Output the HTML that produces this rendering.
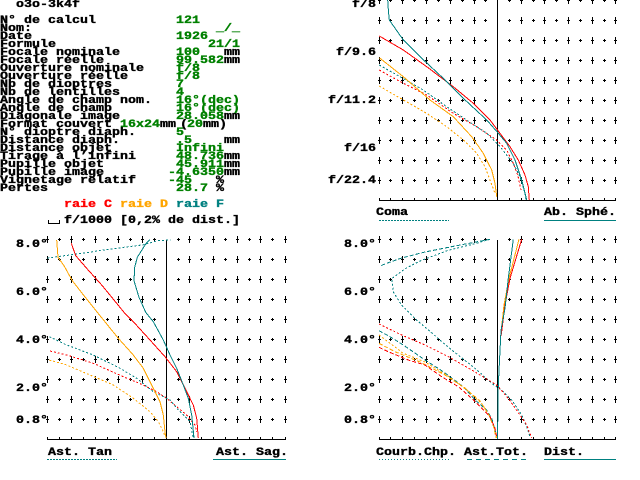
<!DOCTYPE html>
<html><head><meta charset="utf-8"><style>
html,body{margin:0;padding:0;background:#fff;}
svg{display:block;}
text{font-family:"Liberation Mono","DejaVu Sans Mono",monospace;font-weight:bold;font-size:11px;stroke:#000;stroke-width:0.35px;}
.T{stroke:#000;stroke-width:1;stroke-dasharray:7 13;}
.A{stroke:#000;stroke-width:3;stroke-dasharray:1 19;}
.S{stroke:#000;stroke-width:1;stroke-dasharray:3 17;}
text.g{fill:#008000;stroke:#008000}text.r{fill:#ff0000;stroke:#ff0000}text.o{fill:#ffa500;stroke:#ffa500}text.t{fill:#008080;stroke:#008080}
.c{fill:none;stroke-width:1;}
.dt{stroke-dasharray:2 2;}
.ds{stroke-dasharray:4 2;}
</style></head><body>
<svg width="640" height="480" viewBox="0 0 640 480" xmlns="http://www.w3.org/2000/svg">
<rect width="640" height="480" fill="#fff"/>

<g fill="#000">
<text transform="translate(16 7) scale(1.2121 1)">o3o-3k4f</text>
<text transform="translate(0 23) scale(1.2121 1)">N° de calcul</text>
<text class="g" transform="translate(176 23) scale(1.2121 1)">121</text>
<text transform="translate(0 31) scale(1.2121 1)">Nom:</text>
<text class="g" transform="translate(216 31) scale(1.2121 1)">_/_</text>
<text transform="translate(0 39) scale(1.2121 1)">Date</text>
<text class="g" transform="translate(176 39) scale(1.2121 1)">1926</text>
<text transform="translate(0 47) scale(1.2121 1)">Formule</text>
<text class="g" transform="translate(208 47) scale(1.2121 1)">21/1</text>
<text transform="translate(0 55) scale(1.2121 1)">Focale nominale</text>
<text class="g" transform="translate(176 55) scale(1.2121 1)">100</text>
<text transform="translate(224 55) scale(1.2121 1)">mm</text>
<text transform="translate(0 63) scale(1.2121 1)">Focale réelle</text>
<text class="g" transform="translate(176 63) scale(1.2121 1)">99.582</text>
<text transform="translate(224 63) scale(1.2121 1)">mm</text>
<text transform="translate(0 71) scale(1.2121 1)">Ouverture nominale</text>
<text class="g" transform="translate(176 71) scale(1.2121 1)">f/8</text>
<text transform="translate(0 79) scale(1.2121 1)">Ouverture réelle</text>
<text class="g" transform="translate(176 79) scale(1.2121 1)">f/8</text>
<text transform="translate(0 87) scale(1.2121 1)">Nb de dioptres</text>
<text class="g" transform="translate(176 87) scale(1.2121 1)">7</text>
<text transform="translate(0 95) scale(1.2121 1)">Nb de lentilles</text>
<text class="g" transform="translate(176 95) scale(1.2121 1)">4</text>
<text transform="translate(0 103) scale(1.2121 1)">Angle de champ nom.</text>
<text class="g" transform="translate(176 103) scale(1.2121 1)">16°(dec)</text>
<text transform="translate(0 111) scale(1.2121 1)">Angle de champ</text>
<text class="g" transform="translate(176 111) scale(1.2121 1)">16°(dec)</text>
<text transform="translate(0 119) scale(1.2121 1)">Diagonale image</text>
<text class="g" transform="translate(176 119) scale(1.2121 1)">28.058</text>
<text transform="translate(224 119) scale(1.2121 1)">mm</text>
<text transform="translate(0 127) scale(1.2121 1)">Format couvert</text>
<text class="g" transform="translate(120 127) scale(1.2121 1)">16x24</text>
<text transform="translate(160 127) scale(1.2121 1)">mm</text>
<text transform="translate(180 127) scale(1.2121 1)">(</text>
<text class="g" transform="translate(187 127) scale(1.2121 1)">20</text>
<text transform="translate(203 127) scale(1.2121 1)">mm)</text>
<text transform="translate(0 135) scale(1.2121 1)">N° dioptre diaph.</text>
<text class="g" transform="translate(176 135) scale(1.2121 1)">5</text>
<text transform="translate(0 143) scale(1.2121 1)">Distance diaph.</text>
<text class="g" transform="translate(176 143) scale(1.2121 1)">.5</text>
<text transform="translate(224 143) scale(1.2121 1)">mm</text>
<text transform="translate(0 151) scale(1.2121 1)">Distance objet</text>
<text class="g" transform="translate(176 151) scale(1.2121 1)">Infini</text>
<text transform="translate(0 159) scale(1.2121 1)">Tirage à l’infini</text>
<text class="g" transform="translate(176 159) scale(1.2121 1)">48.736</text>
<text transform="translate(224 159) scale(1.2121 1)">mm</text>
<text transform="translate(0 167) scale(1.2121 1)">Pupille objet</text>
<text class="g" transform="translate(176 167) scale(1.2121 1)">45.911</text>
<text transform="translate(224 167) scale(1.2121 1)">mm</text>
<text transform="translate(0 175) scale(1.2121 1)">Pupille image</text>
<text class="g" transform="translate(168 175) scale(1.2121 1)">-4.6350</text>
<text transform="translate(224 175) scale(1.2121 1)">mm</text>
<text transform="translate(0 183) scale(1.2121 1)">Vignetage relatif</text>
<text class="g" transform="translate(168 183) scale(1.2121 1)">-45</text>
<text transform="translate(216 183) scale(1.2121 1)">%</text>
<text transform="translate(0 191) scale(1.2121 1)">Pertes</text>
<text class="g" transform="translate(176 191) scale(1.2121 1)">28.7</text>
<text transform="translate(216 191) scale(1.2121 1)">%</text>
<text class="r" transform="translate(64 207) scale(1.2121 1)">raie C</text>
<text class="o" transform="translate(120 207) scale(1.2121 1)">raie D</text>
<text class="t" transform="translate(176 207) scale(1.2121 1)">raie F</text>
<text transform="translate(64 223) scale(1.2121 1)">f/1000 [0,2% de dist.]</text>

<text transform="translate(352 7) scale(1.2121 1)">f/8</text>
<text transform="translate(336 55) scale(1.2121 1)">f/9.6</text>
<text transform="translate(328 103) scale(1.2121 1)">f/11.2</text>
<text transform="translate(344 151) scale(1.2121 1)">f/16</text>
<text transform="translate(328 183) scale(1.2121 1)">f/22.4</text>
<text transform="translate(376 215) scale(1.2121 1)">Coma</text>
<text transform="translate(544 215) scale(1.2121 1)">Ab. Sphé.</text>

<text transform="translate(16 247) scale(1.2121 1)">8.0°</text>
<text transform="translate(16 295) scale(1.2121 1)">6.0°</text>
<text transform="translate(16 343) scale(1.2121 1)">4.0°</text>
<text transform="translate(16 391) scale(1.2121 1)">2.0°</text>
<text transform="translate(16 423) scale(1.2121 1)">0.8°</text>
<text transform="translate(48 455) scale(1.2121 1)">Ast. Tan</text>
<text transform="translate(216 455) scale(1.2121 1)">Ast. Sag.</text>

<text transform="translate(344 247) scale(1.2121 1)">8.0°</text>
<text transform="translate(344 295) scale(1.2121 1)">6.0°</text>
<text transform="translate(344 343) scale(1.2121 1)">4.0°</text>
<text transform="translate(344 391) scale(1.2121 1)">2.0°</text>
<text transform="translate(344 423) scale(1.2121 1)">0.8°</text>
<text transform="translate(376 455) scale(1.2121 1)">Courb.Chp.</text>
<text transform="translate(464 455) scale(1.2121 1)">Ast.Tot.</text>
<text transform="translate(544 455) scale(1.2121 1)">Dist.</text>
</g>

<g shape-rendering="crispEdges">
<path d="M48.5,220V223.5H59.5V220" fill="none" stroke="#000"/>

<g class="T">
<line x1="379.5" x2="379.5" y1="-3" y2="190"/><line x1="402.5" x2="402.5" y1="-3" y2="190"/>
<line x1="426.5" x2="426.5" y1="-3" y2="190"/><line x1="450.5" x2="450.5" y1="-3" y2="190"/>
<line x1="474.5" x2="474.5" y1="-3" y2="190"/><line x1="521.5" x2="521.5" y1="-3" y2="190"/>
<line x1="544.5" x2="544.5" y1="-3" y2="190"/><line x1="568.5" x2="568.5" y1="-3" y2="190"/>
<line x1="592.5" x2="592.5" y1="-3" y2="190"/><line x1="615.5" x2="615.5" y1="-3" y2="190"/>
</g>
<g class="S">
<line x1="390.5" x2="390.5" y1="-1" y2="190"/><line x1="414.5" x2="414.5" y1="-1" y2="190"/>
<line x1="438.5" x2="438.5" y1="-1" y2="190"/><line x1="462.5" x2="462.5" y1="-1" y2="190"/>
<line x1="485.5" x2="485.5" y1="-1" y2="190"/><line x1="509.5" x2="509.5" y1="-1" y2="190"/>
<line x1="533.5" x2="533.5" y1="-1" y2="190"/><line x1="556.5" x2="556.5" y1="-1" y2="190"/>
<line x1="580.5" x2="580.5" y1="-1" y2="190"/><line x1="604.5" x2="604.5" y1="-1" y2="190"/>
</g>
<g class="A">
<line x1="379.5" x2="379.5" y1="0" y2="190"/><line x1="390.5" x2="390.5" y1="0" y2="190"/>
<line x1="402.5" x2="402.5" y1="0" y2="190"/><line x1="414.5" x2="414.5" y1="0" y2="190"/>
<line x1="426.5" x2="426.5" y1="0" y2="190"/><line x1="438.5" x2="438.5" y1="0" y2="190"/>
<line x1="450.5" x2="450.5" y1="0" y2="190"/><line x1="462.5" x2="462.5" y1="0" y2="190"/>
<line x1="474.5" x2="474.5" y1="0" y2="190"/><line x1="485.5" x2="485.5" y1="0" y2="190"/>
<line x1="509.5" x2="509.5" y1="0" y2="190"/><line x1="521.5" x2="521.5" y1="0" y2="190"/>
<line x1="533.5" x2="533.5" y1="0" y2="190"/><line x1="544.5" x2="544.5" y1="0" y2="190"/>
<line x1="556.5" x2="556.5" y1="0" y2="190"/><line x1="568.5" x2="568.5" y1="0" y2="190"/>
<line x1="580.5" x2="580.5" y1="0" y2="190"/><line x1="592.5" x2="592.5" y1="0" y2="190"/>
<line x1="604.5" x2="604.5" y1="0" y2="190"/><line x1="615.5" x2="615.5" y1="0" y2="190"/>
</g>
<path d="M379,200.5H616M497.5,0V200" stroke="#000" fill="none"/>
<path d="M379.5,198V200M390.5,198V200M402.5,198V200M414.5,198V200M426.5,198V200M438.5,198V200M450.5,198V200M462.5,198V200M474.5,198V200M485.5,198V200M509.5,198V200M521.5,198V200M533.5,198V200M544.5,198V200M556.5,198V200M568.5,198V200M580.5,198V200M592.5,198V200M604.5,198V200M615.5,198V200" stroke="#000" fill="none"/>

<g class="T">
<line x1="47.5" x2="47.5" y1="236" y2="430"/><line x1="71.5" x2="71.5" y1="236" y2="430"/>
<line x1="95.5" x2="95.5" y1="236" y2="430"/><line x1="118.5" x2="118.5" y1="236" y2="430"/>
<line x1="142.5" x2="142.5" y1="236" y2="430"/><line x1="189.5" x2="189.5" y1="236" y2="430"/>
<line x1="213.5" x2="213.5" y1="236" y2="430"/><line x1="237.5" x2="237.5" y1="236" y2="430"/>
<line x1="260.5" x2="260.5" y1="236" y2="430"/><line x1="285.5" x2="285.5" y1="236" y2="430"/>
</g>
<g class="S">
<line x1="59.5" x2="59.5" y1="238" y2="430"/><line x1="83.5" x2="83.5" y1="238" y2="430"/>
<line x1="107.5" x2="107.5" y1="238" y2="430"/><line x1="130.5" x2="130.5" y1="238" y2="430"/>
<line x1="154.5" x2="154.5" y1="238" y2="430"/><line x1="178.5" x2="178.5" y1="238" y2="430"/>
<line x1="201.5" x2="201.5" y1="238" y2="430"/><line x1="225.5" x2="225.5" y1="238" y2="430"/>
<line x1="249.5" x2="249.5" y1="238" y2="430"/><line x1="272.5" x2="272.5" y1="238" y2="430"/>
</g>
<g class="A">
<line x1="47.5" x2="47.5" y1="239" y2="430"/><line x1="59.5" x2="59.5" y1="239" y2="430"/>
<line x1="71.5" x2="71.5" y1="239" y2="430"/><line x1="83.5" x2="83.5" y1="239" y2="430"/>
<line x1="95.5" x2="95.5" y1="239" y2="430"/><line x1="107.5" x2="107.5" y1="239" y2="430"/>
<line x1="118.5" x2="118.5" y1="239" y2="430"/><line x1="130.5" x2="130.5" y1="239" y2="430"/>
<line x1="142.5" x2="142.5" y1="239" y2="430"/><line x1="154.5" x2="154.5" y1="239" y2="430"/>
<line x1="178.5" x2="178.5" y1="239" y2="430"/><line x1="189.5" x2="189.5" y1="239" y2="430"/>
<line x1="201.5" x2="201.5" y1="239" y2="430"/><line x1="213.5" x2="213.5" y1="239" y2="430"/>
<line x1="225.5" x2="225.5" y1="239" y2="430"/><line x1="237.5" x2="237.5" y1="239" y2="430"/>
<line x1="249.5" x2="249.5" y1="239" y2="430"/><line x1="260.5" x2="260.5" y1="239" y2="430"/>
<line x1="272.5" x2="272.5" y1="239" y2="430"/><line x1="285.5" x2="285.5" y1="239" y2="430"/>
</g>
<path d="M47,439.5H286M166.5,240V439" stroke="#000" fill="none"/>
<path d="M47.5,437V439M59.5,437V439M71.5,437V439M83.5,437V439M95.5,437V439M107.5,437V439M118.5,437V439M130.5,437V439M142.5,437V439M154.5,437V439M178.5,437V439M189.5,437V439M201.5,437V439M213.5,437V439M225.5,437V439M237.5,437V439M249.5,437V439M260.5,437V439M272.5,437V439M285.5,437V439" stroke="#000" fill="none"/>

<g class="T">
<line x1="379.5" x2="379.5" y1="236" y2="430"/><line x1="402.5" x2="402.5" y1="236" y2="430"/>
<line x1="426.5" x2="426.5" y1="236" y2="430"/><line x1="450.5" x2="450.5" y1="236" y2="430"/>
<line x1="474.5" x2="474.5" y1="236" y2="430"/><line x1="521.5" x2="521.5" y1="236" y2="430"/>
<line x1="544.5" x2="544.5" y1="236" y2="430"/><line x1="568.5" x2="568.5" y1="236" y2="430"/>
<line x1="592.5" x2="592.5" y1="236" y2="430"/><line x1="615.5" x2="615.5" y1="236" y2="430"/>
</g>
<g class="S">
<line x1="390.5" x2="390.5" y1="238" y2="430"/><line x1="414.5" x2="414.5" y1="238" y2="430"/>
<line x1="438.5" x2="438.5" y1="238" y2="430"/><line x1="462.5" x2="462.5" y1="238" y2="430"/>
<line x1="485.5" x2="485.5" y1="238" y2="430"/><line x1="509.5" x2="509.5" y1="238" y2="430"/>
<line x1="533.5" x2="533.5" y1="238" y2="430"/><line x1="556.5" x2="556.5" y1="238" y2="430"/>
<line x1="580.5" x2="580.5" y1="238" y2="430"/><line x1="604.5" x2="604.5" y1="238" y2="430"/>
</g>
<g class="A">
<line x1="379.5" x2="379.5" y1="239" y2="430"/><line x1="390.5" x2="390.5" y1="239" y2="430"/>
<line x1="402.5" x2="402.5" y1="239" y2="430"/><line x1="414.5" x2="414.5" y1="239" y2="430"/>
<line x1="426.5" x2="426.5" y1="239" y2="430"/><line x1="438.5" x2="438.5" y1="239" y2="430"/>
<line x1="450.5" x2="450.5" y1="239" y2="430"/><line x1="462.5" x2="462.5" y1="239" y2="430"/>
<line x1="474.5" x2="474.5" y1="239" y2="430"/><line x1="485.5" x2="485.5" y1="239" y2="430"/>
<line x1="509.5" x2="509.5" y1="239" y2="430"/><line x1="521.5" x2="521.5" y1="239" y2="430"/>
<line x1="533.5" x2="533.5" y1="239" y2="430"/><line x1="544.5" x2="544.5" y1="239" y2="430"/>
<line x1="556.5" x2="556.5" y1="239" y2="430"/><line x1="568.5" x2="568.5" y1="239" y2="430"/>
<line x1="580.5" x2="580.5" y1="239" y2="430"/><line x1="592.5" x2="592.5" y1="239" y2="430"/>
<line x1="604.5" x2="604.5" y1="239" y2="430"/><line x1="615.5" x2="615.5" y1="239" y2="430"/>
</g>
<path d="M379,439.5H616M497.5,240V439" stroke="#000" fill="none"/>
<path d="M379.5,437V439M390.5,437V439M402.5,437V439M414.5,437V439M426.5,437V439M438.5,437V439M450.5,437V439M462.5,437V439M474.5,437V439M485.5,437V439M509.5,437V439M521.5,437V439M533.5,437V439M544.5,437V439M556.5,437V439M568.5,437V439M580.5,437V439M592.5,437V439M604.5,437V439M615.5,437V439" stroke="#000" fill="none"/>

<line x1="379" y1="220.5" x2="449" y2="220.5" stroke="#008080" stroke-dasharray="2 1"/>
<line x1="544" y1="220.5" x2="616" y2="220.5" stroke="#008080"/>
<line x1="47" y1="459.5" x2="117" y2="459.5" stroke="#008080" stroke-dasharray="2 1"/>
<line x1="213" y1="459.5" x2="286" y2="459.5" stroke="#008080"/>
<line x1="379" y1="459.5" x2="449" y2="459.5" stroke="#008080" stroke-dasharray="1 2"/>
<line x1="467" y1="459.5" x2="527" y2="459.5" stroke="#008080" stroke-dasharray="5 4"/>
<line x1="544" y1="459.5" x2="616" y2="459.5" stroke="#008080"/>
</g>

<g class="c" shape-rendering="crispEdges">
<polyline stroke="#ffa500" class="c dt" points="379.3,86 403.3,100 426.7,113.3 446.7,126.7 463.3,140 476.7,153.3 485,166.7 490,180 495,193.3"/>
<polyline stroke="#ff0000" class="c dt" points="379.3,70 403.3,83.3 426.7,95 453.3,113.3 476.7,126.7 496.7,140 506.7,150 513.3,163.3 518,176 521,190"/>
<polyline stroke="#008080" class="c dt" points="379.3,65 400,76.7 423.3,90 446.7,106.7 466.7,120 486.7,133.3 500,146.7 513.3,163.3 520,176.7 525,193.3 526,200"/>
<polyline stroke="#ffa500" class="c" points="379.3,57.7 403.3,76.7 430,100 453.3,116.7 471.7,136.7 483.3,153.3 491.7,170 495,183.3 496.7,196.7"/>
<polyline stroke="#ff0000" class="c" points="379.3,36 403.3,50 426.7,66.7 453.3,86.7 473.3,103.3 490,120 500,133.3 510,146.7 518.3,160 525,175 528.3,186.7 529.3,200"/>
<polyline stroke="#008080" class="c" points="387.7,0 388.5,12 389.3,20 403.3,40 420,56.7 443.3,78.3 463.3,98.3 486.7,120 497,131.7 506.7,143.3 515,160 521.7,180 526.7,200"/>
</g>

<g class="c" shape-rendering="crispEdges">
<polyline stroke="#ffa500" class="c dt" points="49.3,360 66.7,365 90,375 113.3,385 133.3,398.3 150,411.7 158.3,421.7 163.3,431.7 165,436.7"/>
<polyline stroke="#ff0000" class="c dt" points="50,351 66.7,355 93.3,363.3 123.3,376.7 143.3,385 156.7,391.7 166.7,398.3 176.7,406.7 186.7,415 195,425 196.7,432"/>
<polyline stroke="#008080" class="c dt" points="47.3,258 77.3,254 110.7,249 144,244.7 157.3,240.7 170.7,240"/>
<polyline stroke="#008080" class="c dt" points="49.3,336.7 66.7,345 93.3,355 120,368.3 136.7,378.3 153.3,391.7 170,400 180,411.7 190,421.7 193.3,438"/>
<polyline stroke="#ffa500" class="c" points="56.7,240 58,257.3 64,265.7 72.3,280.7 84,295.7 97.3,312.3 118.3,338.3 133.3,355 143.3,368.3 153.3,388.3 160,401.7 163.3,415 165,431.7 166,438"/>
<polyline stroke="#ff0000" class="c" points="71.3,243.3 75.7,255.7 87.3,269 102.3,285.7 124,312.3 133.3,321.7 150,340 165,356.7 176.7,371.7 186.7,391.7 193.3,405 196.7,418.3 198.3,438"/>
<polyline stroke="#008080" class="c" points="150,239.7 145.7,244 137.3,257.3 134.7,267.3 134,280.7 139,297.3 145.7,312.3 153.3,321.7 163.3,340 170,355 176.7,368.3 183.3,385 188.3,398.3 191.7,415 194,438"/>
</g>

<g class="c" shape-rendering="crispEdges">
<polyline stroke="#008080" class="c dt" points="490,239.3 475,243.7 448.3,250.3 421.7,260.3 405,268.7 391.7,278.7 393.3,292 401.7,305.3 415,318.7 428.3,330 451.7,350 475,368.3 491.7,383.3 501.7,390 511.7,400 521.7,415 526.7,426.7 530,437"/>
<polyline stroke="#008080" class="c ds" points="490,239.3 455,246 425,252 401.7,258 388.3,262.7 380,266"/>
<polyline stroke="#ff0000" class="c dt" points="379,324 401.7,335 425,345 448.3,356.7 471.7,370 488.3,380 496.7,385 508.3,398.3 520,415 526.7,425 531.7,438"/>
<polyline stroke="#008080" class="c ds" points="379,330.7 390,336.7 403.3,345 425,360 443.3,371.7 456.7,381.7 465,388.3 475,400 486.7,410 491.7,418.3 495,430 496.7,438"/>
<polyline stroke="#ffa500" class="c dt" points="379,335 403.3,353.3 425,362 448,376 468,391 482,404 490,417 495,430 496.7,438"/>
<polyline stroke="#ffa500" class="c ds" points="379,343.3 395,351.7 420,362 445,375 465,388 480,401 489,415 494,428 496,438"/>
<polyline stroke="#ff0000" class="c ds" points="379,347.3 388.3,351.7 408.3,360 425,365 441.7,376.7 458.3,386.7 471.7,398.3 481.7,408.3 490,416.7 495,428.3 496.5,436"/>
<polyline stroke="#ffa500" class="c" points="519,239.3 509,278 504,305 501.5,328"/>
<polyline stroke="#ff0000" class="c" points="521.7,239.3 510,278.3 505,305 501.7,331.7 501,336"/>
<polyline stroke="#008080" class="c" points="513.3,239.3 508.3,278.3 505,308.3 501,330.3 498.3,385 497.5,439"/>
</g>
</svg>
</body></html>
